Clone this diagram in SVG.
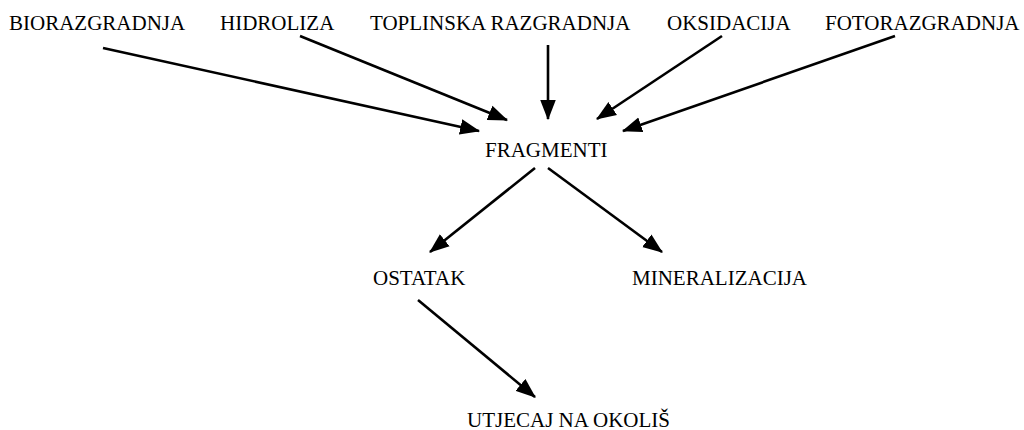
<svg xmlns="http://www.w3.org/2000/svg" width="1024" height="430" viewBox="0 0 1024 430">
<style>
text{font-family:"Liberation Serif","Times New Roman",serif;font-size:21px;fill:#000}
.c line{stroke:#000;stroke-width:2.6;marker-end:url(#ah)}
</style>
<defs>
<marker id="ah" markerUnits="userSpaceOnUse" markerWidth="20" markerHeight="16" refX="17" refY="7" orient="auto" viewBox="0 0 18 14">
<path d="M0,0 L18,7 L0,14 Z" fill="#000"/>
</marker>
</defs>
<rect width="1024" height="430" fill="#fff"/>
<g id="n-bio"><text x="9" y="30">BIORAZGRADNJA</text></g>
<g id="n-hid"><text x="220" y="30">HIDROLIZA</text></g>
<g id="n-top"><text x="370" y="30">TOPLINSKA RAZGRADNJA</text></g>
<g id="n-oks"><text x="667" y="30">OKSIDACIJA</text></g>
<g id="n-foto"><text x="825" y="30">FOTORAZGRADNJA</text></g>
<g id="n-frag"><text x="485" y="157">FRAGMENTI</text></g>
<g id="n-ost"><text x="373" y="285">OSTATAK</text></g>
<g id="n-min"><text x="632" y="285">MINERALIZACIJA</text></g>
<g id="n-utj"><text x="467" y="427">UTJECAJ NA OKOLIŠ</text></g>
<g class="c" id="connectors">
<line x1="103" y1="48" x2="479" y2="131"/>
<line x1="300" y1="36" x2="507" y2="120"/>
<line x1="548" y1="45" x2="548" y2="119"/>
<line x1="722" y1="36" x2="597" y2="119"/>
<line x1="895" y1="36" x2="623" y2="131"/>
<line x1="535" y1="168" x2="430" y2="252"/>
<line x1="548" y1="168" x2="662" y2="252"/>
<line x1="418" y1="300" x2="535" y2="397"/>
</g>
</svg>
